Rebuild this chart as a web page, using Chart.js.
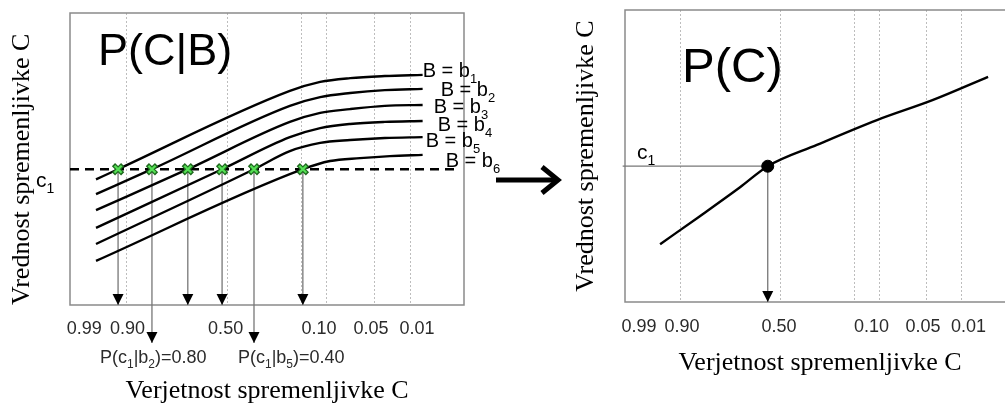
<!DOCTYPE html>
<html><head><meta charset="utf-8">
<script src="https://cdn.jsdelivr.net/npm/chart.js@4.4.1/dist/chart.umd.min.js"></script>
<style>
html,body{margin:0;padding:0;background:#fff;overflow:hidden;width:1005px;height:405px;position:relative}
#left{position:absolute;left:0;top:0}
#right{position:absolute;left:495px;top:0}
</style></head><body>
<canvas id="left" width="515" height="420"></canvas>
<canvas id="right" width="530" height="420"></canvas>
<script>
// ---------- data ----------
const tickPositions = [3.6, 14.6, 39.5, 63.2, 76.4, 88.1];
const tickLabels = ['0.99', '0.90', '0.50', '0.10', '0.05', '0.01'];
const gridPositions = [14.3, 39.9, 58.8, 65.2, 77.4, 86.4];
const c1 = 46.5;
const curveNames = ['1', '2', '3', '4', '5', '6'];
const curveB1 = [[6.6,43.0],[12.2,46.5],[55.8,73.3],[63.5,76.4],[71.1,77.7],[79.9,78.4],[89.5,78.8]];
const curveB2 = [[6.6,38.0],[20.8,46.5],[55.8,68.2],[63.5,71.2],[71.1,72.6],[79.9,73.6],[89.5,74.0]];
const curveB3 = [[6.6,32.5],[29.9,46.5],[55.8,62.7],[63.5,65.8],[71.1,67.1],[79.9,68.2],[89.5,68.5]];
const curveB4 = [[6.6,26.4],[38.6,46.5],[55.8,57.5],[63.5,60.6],[71.1,62.0],[79.9,62.7],[89.5,63.0]];
const curveB5 = [[6.6,20.9],[46.7,46.5],[55.8,52.7],[63.5,55.5],[71.1,56.5],[79.9,57.2],[89.5,57.5]];
const curveB6 = [[6.6,15.1],[59.1,46.5],[66.0,49.3],[73.6,50.3],[81.2,51.0],[89.5,51.4]];
const crossX = [12.2, 20.8, 29.9, 38.6, 46.7, 59.1];
const arrowTipY = [0, -13, 0, 0, -13, 0];
const condProbLabels = [{b:'2', p:'0.80', arrow:1}, {b:'5', p:'0.40', arrow:4}];
const pcCurve = [[9.0,19.8],[19.2,29.4],[29.5,39.3],[36.6,46.5],[49.2,53.8],[64.6,62.3],[79.0,69.2],[93.1,77.1]];
const pcPointX = 36.6;

// ---------- styling helpers ----------
const SANS = '"Liberation Sans", Arial, sans-serif';
const SERIF = '"Liberation Serif", "Times New Roman", serif';
const pts = a => a.map(p => ({x: p[0], y: p[1]}));

function richText(ctx, parts, x, y, size, color) {
  let cx = x;
  ctx.save();
  ctx.fillStyle = color || '#000';
  ctx.textBaseline = 'alphabetic';
  ctx.textAlign = 'left';
  for (const [t, sub] of parts) {
    const s = sub ? Math.round(size * 0.65) : size;
    ctx.font = s + 'px ' + SANS;
    ctx.fillText(t, cx, sub ? y + size * 0.28 : y);
    cx += ctx.measureText(t).width;
  }
  ctx.restore();
}

const boxPlugin = {
  id: 'box',
  beforeDatasetsDraw(chart) {
    const {ctx, chartArea: a} = chart;
    ctx.save();
    ctx.strokeStyle = '#8a8a8a';
    ctx.lineWidth = 1.5;
    ctx.strokeRect(a.left, a.top, a.right - a.left, a.bottom - a.top);
    ctx.restore();
  }
};

const arrowPlugin = {
  id: 'arrowheads',
  afterDatasetsDraw(chart) {
    const ctx = chart.ctx;
    chart.data.datasets.forEach((ds, i) => {
      if (!ds.arrowHead) return;
      const meta = chart.getDatasetMeta(i);
      const p = meta.data[meta.data.length - 1];
      ctx.save();
      ctx.fillStyle = '#000';
      ctx.beginPath();
      ctx.moveTo(p.x, p.y);
      ctx.lineTo(p.x - 5.5, p.y - 11);
      ctx.lineTo(p.x + 5.5, p.y - 11);
      ctx.closePath();
      ctx.fill();
      ctx.restore();
    });
  }
};

const labelDx = [0, 18, 11, 15, 3, 23];
const labelDy = [2, 7, 8, 10, 10, 12];

const leftTextPlugin = {
  id: 'leftText',
  afterDraw(chart) {
    const ctx = chart.ctx;
    const a = chart.chartArea;
    const ys = chart.scales.y;
    const yc = ys.getPixelForValue(c1);
    richText(ctx, [['P(C|B)']], 98, 65, 45, '#000');
    richText(ctx, [['c'], ['1', true]], a.left - 34, yc + 18, 21, '#000');
    chart.data.datasets.forEach((ds, i) => {
      if (ds.curveIndex === undefined) return;
      const meta = chart.getDatasetMeta(i);
      const p = meta.data[meta.data.length - 1];
      const k = ds.curveIndex;
      richText(ctx, [['B = b'], [curveNames[k], true]], p.x + labelDx[k], p.y + labelDy[k], 20, '#000');
    });
    const xs = chart.scales.x;
    const shifts = [-52, -16];
    condProbLabels.forEach((l, j) => {
      const ax = xs.getPixelForValue(crossX[l.arrow]);
      const ty = ys.getPixelForValue(arrowTipY[l.arrow]);
      richText(ctx, [['P(c'], ['1', true], ['|b'], [l.b, true], [')=' + l.p]], ax + shifts[j], ty + 20, 18, '#2b2b2b');
    });
  }
};

const rightTextPlugin = {
  id: 'rightText',
  afterDraw(chart) {
    const ctx = chart.ctx;
    const a = chart.chartArea;
    const yc = chart.scales.y.getPixelForValue(c1);
    richText(ctx, [['P(C)']], 187, 82, 49, '#000');
    richText(ctx, [['c'], ['1', true]], a.left + 12, yc - 7, 21, '#000');
    // connecting arrow between the two panels
    ctx.save();
    ctx.strokeStyle = '#000';
    ctx.lineWidth = 5;
    ctx.lineCap = 'butt';
    ctx.lineJoin = 'miter';
    ctx.beginPath();
    ctx.moveTo(1, 180); ctx.lineTo(61, 180);
    ctx.stroke();
    ctx.beginPath();
    ctx.moveTo(47, 167); ctx.lineTo(63, 180); ctx.lineTo(47, 193);
    ctx.stroke();
    ctx.restore();
  }
};

function xScales(belowHeight, tickPad, titlePadBottom) {
  return {
    x: {
      type: 'linear', min: 0, max: 100, position: 'bottom',
      afterBuildTicks: s => { s.ticks = gridPositions.map(v => ({value: v})); },
      afterFit: s => { s.height = 0; },
      ticks: {display: false},
      grid: {color: '#bdbdbd', lineWidth: 1, drawTicks: false},
      border: {display: false, dash: [2, 2]}
    },
    xt: {
      type: 'linear', min: 0, max: 100, position: 'bottom',
      afterBuildTicks: s => { s.ticks = tickPositions.map(v => ({value: v})); },
      afterFit: s => { s.height = belowHeight; },
      grid: {display: false, drawTicks: false},
      border: {display: false},
      ticks: {autoSkip: false, maxRotation: 0, minRotation: 0, padding: tickPad, color: '#2b2b2b',
              font: {family: SANS, size: 18}, callback: (v, i) => tickLabels[i]},
      title: {display: true, text: 'Verjetnost spremenljivke C', color: '#000',
              font: {family: SERIF, size: 26, lineHeight: 1.2}, padding: {top: 0, bottom: titlePadBottom}}
    }
  };
}

// ---------- left chart: P(C|B) ----------
const curves = [curveB1, curveB2, curveB3, curveB4, curveB5, curveB6];
const leftDatasets = [];
leftDatasets.push({data: crossX.map(x => ({x, y: c1})), showLine: false, pointStyle: 'crossRot',
  pointRadius: 5, pointBorderWidth: 2.2, pointBorderColor: '#55e055', order: 0});
leftDatasets.push({data: crossX.map(x => ({x, y: c1})), showLine: false, pointStyle: 'crossRot',
  pointRadius: 6.5, pointBorderWidth: 4.5, pointBorderColor: '#1f6a1f', order: 1});
curves.forEach((c, i) => leftDatasets.push({data: pts(c), borderColor: '#000', borderWidth: 2.4,
  pointRadius: 0, cubicInterpolationMode: 'monotone', curveIndex: i, order: 2}));
leftDatasets.push({data: [{x: 0, y: c1}, {x: 98.2, y: c1}], borderColor: '#000', borderWidth: 2.4,
  borderDash: [9, 6], pointRadius: 0, order: 3});
crossX.forEach((x, i) => leftDatasets.push({data: [{x, y: c1}, {x, y: arrowTipY[i]}], borderColor: '#777',
  borderWidth: 1.3, pointRadius: 0, clip: false, arrowHead: true, order: 4}));

const leftScales = xScales(115, 13, 13);
leftScales.y = {
  type: 'linear', min: 0, max: 100,
  afterFit: s => { s.width = 70; },
  ticks: {display: false}, grid: {display: false}, border: {display: false},
  title: {display: true, text: 'Vrednost spremenljivke C', align: 'start', color: '#000',
          font: {family: SERIF, size: 26, lineHeight: 1.2}, padding: {top: 7, bottom: 0}}
};

new Chart(document.getElementById('left'), {
  type: 'line',
  data: {datasets: leftDatasets},
  options: {
    responsive: false, animation: false, devicePixelRatio: 1, events: [],
    layout: {padding: {left: 0, right: 51, top: 13, bottom: 0}},
    plugins: {legend: {display: false}, tooltip: {enabled: false}},
    scales: leftScales
  },
  plugins: [boxPlugin, arrowPlugin, leftTextPlugin]
});

// ---------- right chart: P(C) ----------
const rightDatasets = [
  {data: [{x: pcPointX, y: c1}], showLine: false, pointRadius: 6, pointBackgroundColor: '#000', pointBorderColor: '#000', order: 0},
  {data: pts(pcCurve), borderColor: '#000', borderWidth: 2.4, pointRadius: 0, cubicInterpolationMode: 'monotone', order: 1},
  {data: [{x: -0.6, y: c1}, {x: pcPointX, y: c1}], borderColor: '#777', borderWidth: 1.3, pointRadius: 0, clip: false, order: 2},
  {data: [{x: pcPointX, y: c1}, {x: pcPointX, y: 0}], borderColor: '#777', borderWidth: 1.3, pointRadius: 0, arrowHead: true, order: 2}
];
const rightScales = xScales(118, 14, 41);
rightScales.y = {
  type: 'linear', min: 0, max: 100,
  afterFit: s => { s.width = 130; },
  ticks: {display: false}, grid: {display: false}, border: {display: false},
  title: {display: true, text: 'Vrednost spremenljivke C', align: 'center', color: '#000',
          font: {family: SERIF, size: 26, lineHeight: 1.2}, padding: {top: 76, bottom: 0}}
};

new Chart(document.getElementById('right'), {
  type: 'line',
  data: {datasets: rightDatasets},
  options: {
    responsive: false, animation: false, devicePixelRatio: 1, events: [],
    layout: {padding: {left: 0, right: 10, top: 10, bottom: 0}},
    plugins: {legend: {display: false}, tooltip: {enabled: false}},
    scales: rightScales
  },
  plugins: [boxPlugin, arrowPlugin, rightTextPlugin]
});
</script>
</body></html>
